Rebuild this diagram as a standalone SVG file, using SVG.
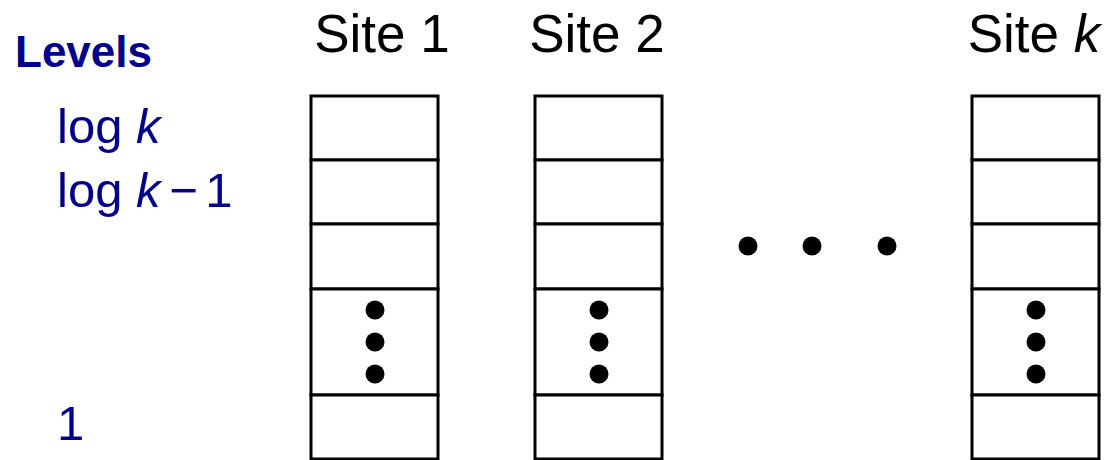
<svg xmlns="http://www.w3.org/2000/svg" width="1111" height="460" viewBox="0 0 1111 460">
  <style>
    .cell { fill: #ffffff; stroke: #000000; stroke-width: 3; }
    .dot { fill: #000000; }
    .site { font-family: "Liberation Sans", Arial, sans-serif; font-size: 53px; fill: #000000; }
    .lvl { font-family: "Liberation Sans", Arial, sans-serif; font-size: 49px; fill: #00008a; }
    .head { font-family: "Liberation Sans", Arial, sans-serif; font-size: 44px; font-weight: bold; fill: #00008a; }
    .it { font-style: italic; }
  </style>
  <defs>
    <!-- one stack of level cells, origin at the top-left corner -->
    <g id="stack">
      <rect class="cell" x="0" y="0" width="127" height="64"/>
      <rect class="cell" x="0" y="64" width="127" height="64"/>
      <rect class="cell" x="0" y="128" width="127" height="65"/>
      <rect class="cell" x="0" y="193" width="127" height="106"/>
      <rect class="cell" x="0" y="299" width="127" height="64"/>
      <circle class="dot" cx="64" cy="214" r="9.5"/>
      <circle class="dot" cx="64" cy="246" r="9.5"/>
      <circle class="dot" cx="64" cy="278" r="9.5"/>
    </g>
  </defs>

  <g id="levels">
    <text class="head" x="15" y="67">Levels</text>
    <text class="lvl" x="57" y="143">log <tspan class="it">k</tspan></text>
    <text class="lvl" x="57" y="207">log <tspan class="it">k</tspan><tspan dx="9">−</tspan><tspan dx="7">1</tspan></text>
    <text class="lvl" x="57" y="440">1</text>
  </g>

  <g id="site1">
    <text class="site" x="382" y="52" text-anchor="middle">Site 1</text>
    <use href="#stack" x="311" y="96"/>
  </g>

  <g id="site2">
    <text class="site" x="597" y="52" text-anchor="middle">Site 2</text>
    <use href="#stack" x="535" y="96"/>
  </g>

  <g id="gap">
    <circle class="dot" cx="748" cy="246" r="9.5"/>
    <circle class="dot" cx="812" cy="246" r="9.5"/>
    <circle class="dot" cx="887" cy="246" r="9.5"/>
  </g>

  <g id="sitek">
    <text class="site" x="1034" y="52" text-anchor="middle">Site <tspan class="it">k</tspan></text>
    <use href="#stack" x="972" y="96"/>
  </g>

  <g id="connectors"></g>
</svg>
